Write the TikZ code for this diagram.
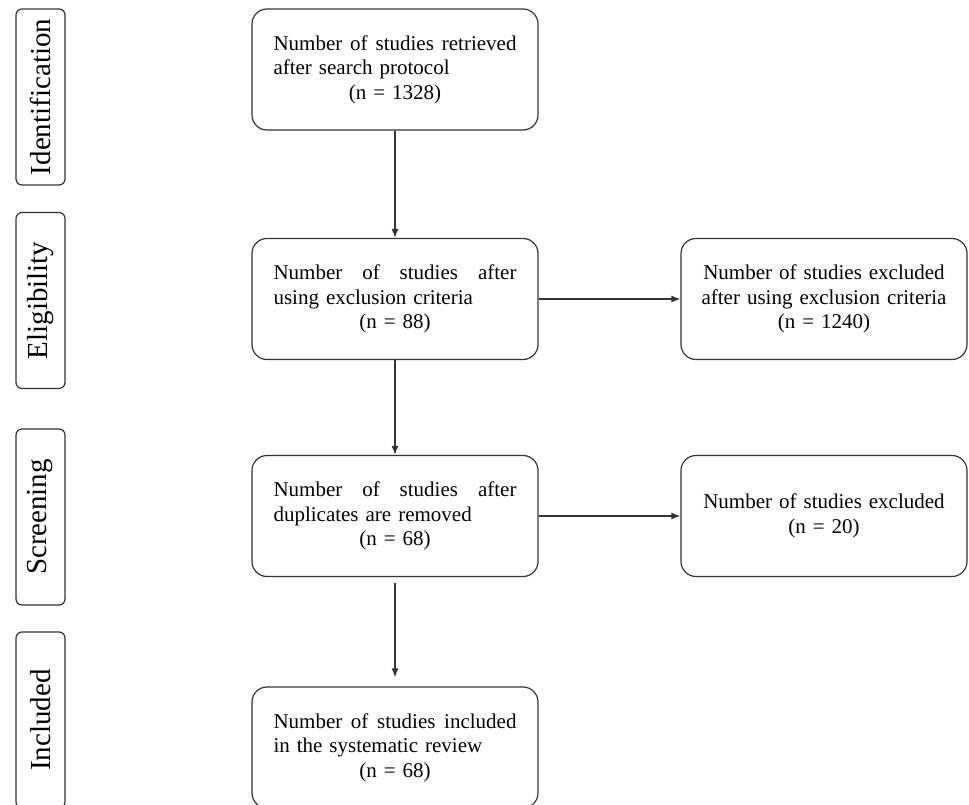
\documentclass[tikz,border=0pt]{standalone}
\usepackage{fontspec}
\setmainfont{Liberation Serif}
\usetikzlibrary{arrows.meta}

\newcommand{\spreadLine}[1]{\makebox[243pt][l]{#1}}
\newcommand{\countLine}[1]{\makebox[243pt][c]{#1}}

\tikzset{
    stageLabel/.style={draw=black!80, line width=1.2pt, rounded corners=6pt,
        rotate=90, minimum width=176pt, minimum height=49pt, inner sep=0pt,
        font=\fontsize{29}{32}\selectfont},
    studyBox/.style={draw=black!80, line width=1.2pt, rounded corners=15pt,
        text width=243pt, inner xsep=21.5pt, inner ysep=0pt, minimum height=121pt,
        font=\fontsize{21}{24.5}\selectfont},
    excludedBox/.style={studyBox, align=center, text width=254pt, inner xsep=16pt},
    flowArrow/.style={draw=black!80, line width=1.2pt, -{Latex[length=9pt,width=7pt]}}
}

\begin{document}
\begin{tikzpicture}[x=1pt, y=-1pt]
    \useasboundingbox (0,0) rectangle (969,805);
    \clip (0,0) rectangle (969,805);

    \node[stageLabel] (identification) at (40.5,97) {Identification};
    \node[stageLabel] (eligibility) at (40.5,300.5) {Eligibility};
    \node[stageLabel] (screening) at (40.5,517) {Screening};
    \node[stageLabel] (includedLabel) at (40.5,720) {Included};

    \node[studyBox] (retrieved) at (395,69.5) {\spreadLine{Number\hfill of\hfill studies\hfill retrieved}\\after search protocol\\\countLine{(n = 1328)}};
    \node[studyBox] (eligible) at (395,299) {\spreadLine{Number\hfill of\hfill studies\hfill after}\\using exclusion criteria\\\countLine{(n = 88)}};
    \node[studyBox] (deduplicated) at (395,516) {\spreadLine{Number\hfill of\hfill studies\hfill after}\\duplicates are removed\\\countLine{(n = 68)}};
    \node[studyBox] (included) at (395,747.5) {\spreadLine{Number\hfill of\hfill studies\hfill included}\\in the systematic review\\\countLine{(n = 68)}};

    \node[excludedBox] (excludedCriteria) at (824,299) {Number of studies excluded\\after using exclusion criteria\\(n = 1240)};
    \node[excludedBox] (excludedOther) at (824,516) {Number of studies excluded\\(n = 20)};

    \draw[flowArrow] (retrieved) -- (eligible);
    \draw[flowArrow] (eligible) -- (deduplicated);
    \draw[flowArrow, shorten <=6pt, shorten >=9pt] (deduplicated) -- (included);
    \draw[flowArrow] (eligible) -- (excludedCriteria);
    \draw[flowArrow] (deduplicated) -- (excludedOther);
\end{tikzpicture}
\end{document}
